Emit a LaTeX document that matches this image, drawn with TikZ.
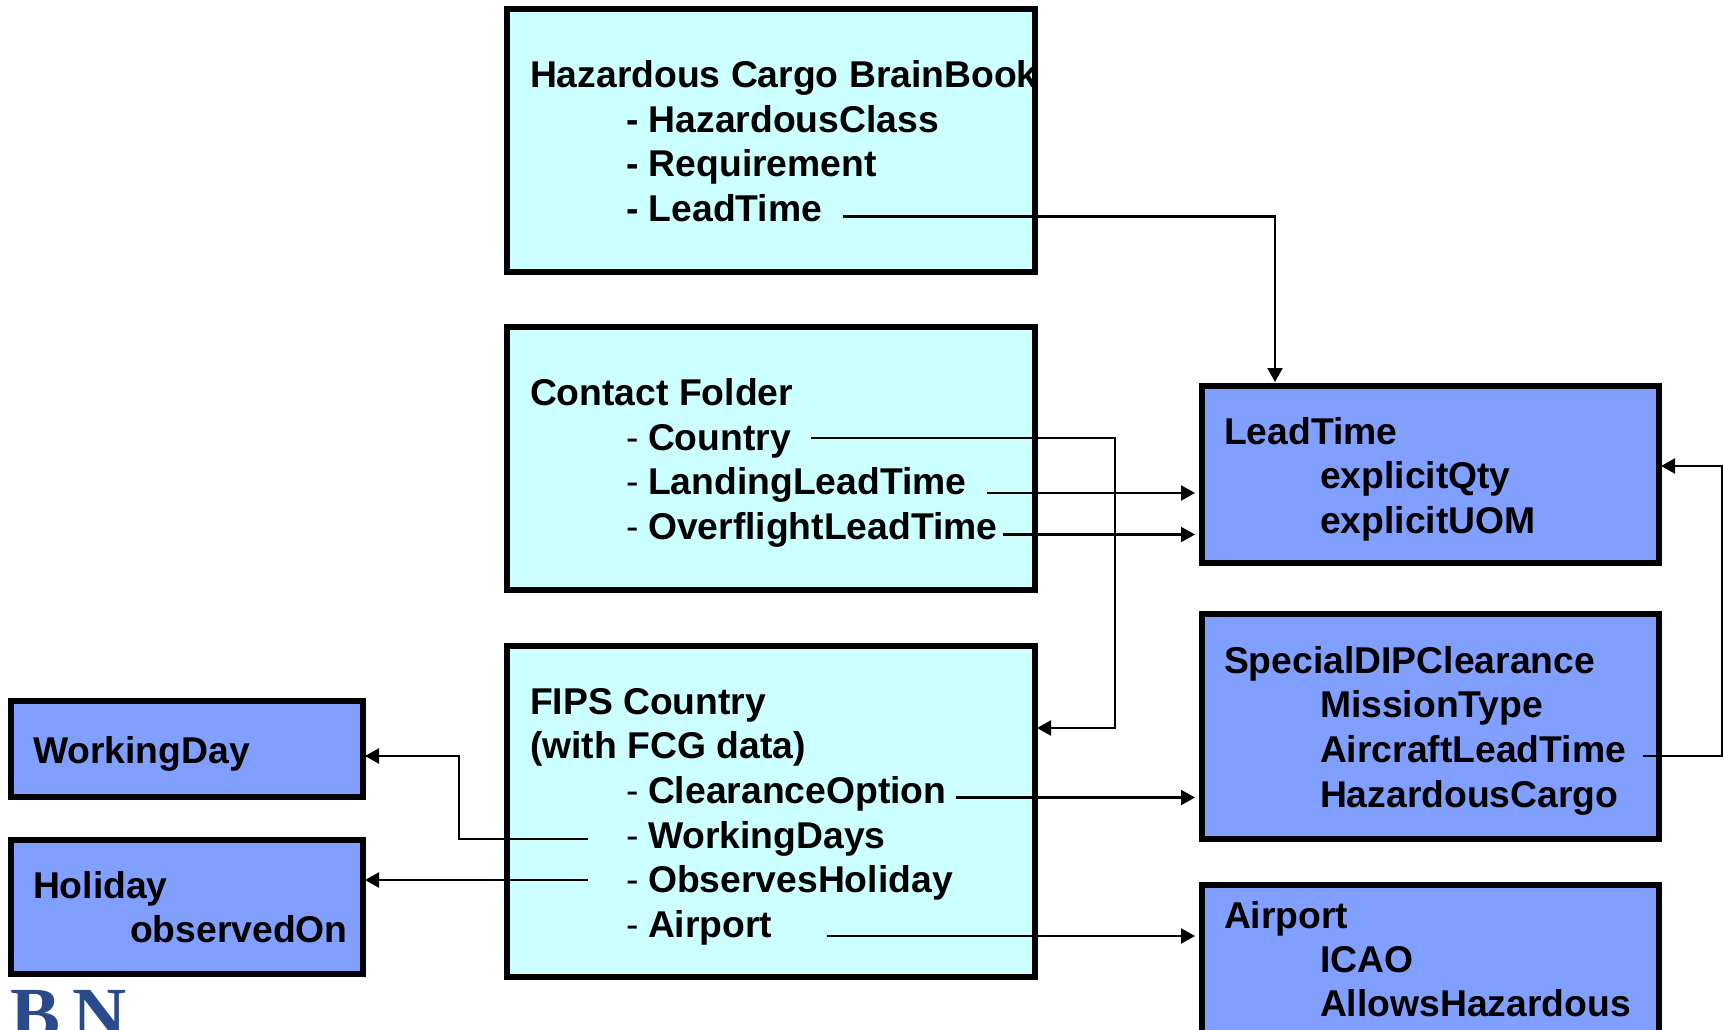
\documentclass[tikz,border=0pt]{standalone}
\usepackage{fontspec}
\setmainfont{Liberation Sans}
\newfontfamily\logofont{Liberation Serif}
\usetikzlibrary{arrows.meta}
\definecolor{cyanbox}{HTML}{CCFFFF}
\definecolor{bluebox}{HTML}{809FFF}
\definecolor{logoblue}{HTML}{2A4A8C}
\tikzset{
  x=1pt,y=-1pt,
  boxa/.style={draw=black,line width=6pt,fill=cyanbox},
  boxb/.style={draw=black,line width=6pt,fill=bluebox},
  txt/.style={anchor=base west,inner sep=0pt,outer sep=0pt,font=\fontsize{37.3}{40}\selectfont\bfseries},
  dsh/.style={anchor=base west,inner sep=0pt,outer sep=0pt,font=\fontsize{37.3}{40}\selectfont},
  link/.style={draw=black,line width=2.1pt},
  arr/.style={link,-{Triangle[length=14pt,width=15pt]}},
}
\begin{document}
\begin{tikzpicture}
\useasboundingbox (0,0) rectangle (1723,1030);
\clip (0,0) rectangle (1723,1030);
% boxes
\draw[boxa] (507,9) rectangle (1035,272);
\draw[boxa] (507,327) rectangle (1035,590);
\draw[boxa] (507,646) rectangle (1035,977);
\draw[boxb] (1202,386) rectangle (1659,563);
\draw[boxb] (1202,614) rectangle (1659,839);
\draw[boxb] (1202,885) rectangle (1659,1050);
\draw[boxb] (11,701) rectangle (363,797);
\draw[boxb] (11,840) rectangle (363,974);
% text
\node[txt] (h0) at (530,87.5) {Hazardous Cargo BrainBook};
\node[txt] (h1) at (626,132) {- HazardousClass};
\node[txt] (h2) at (626,176) {- Requirement};
\node[txt] (h3) at (626,221) {- LeadTime};
\node[txt] (c0) at (530,405) {Contact Folder};
\node[dsh] (c1d) at (626,450) {-};
\node[txt] (c1) at (648,450) {Country};
\node[dsh] (c2d) at (626,494) {-};
\node[txt] (c2) at (648,494) {LandingLeadTime};
\node[dsh] (c3d) at (626,539) {-};
\node[txt] (c3) at (648,539) {OverflightLeadTime};
\node[txt] (f0) at (530,714) {FIPS Country};
\node[txt] (f1) at (530,758) {(with FCG data)};
\node[dsh] (f2d) at (626,803) {-};
\node[txt] (f2) at (648,803) {ClearanceOption};
\node[dsh] (f3d) at (626,848) {-};
\node[txt] (f3) at (648,848) {WorkingDays};
\node[dsh] (f4d) at (626,892) {-};
\node[txt] (f4) at (648,892) {ObservesHoliday};
\node[dsh] (f5d) at (626,937) {-};
\node[txt] (f5) at (648,937) {Airport};
\node[txt] (l0) at (1224,444) {LeadTime};
\node[txt] (l1) at (1320,488) {explicitQty};
\node[txt] (l2) at (1320,533) {explicitUOM};
\node[txt] (s0) at (1224,673) {SpecialDIPClearance};
\node[txt] (s1) at (1320,717.5) {MissionType};
\node[txt] (s2) at (1320,762) {AircraftLeadTime};
\node[txt] (s3) at (1320,807) {HazardousCargo};
\node[txt] (a0) at (1224,928) {Airport};
\node[txt] (a1) at (1320,972.5) {ICAO};
\node[txt] (a2) at (1320,1016.5) {AllowsHazardous};
\node[txt] (w0) at (33,763) {WorkingDay};
\node[txt] (o0) at (33,898) {Holiday};
\node[txt] (o1) at (130,942) {observedOn};
\node[anchor=base west,inner sep=0pt,text=logoblue,font=\logofont\bfseries\fontsize{75}{75}\selectfont] (logo) at (10,1039) {B\,N};
% connector ends
\coordinate (e1a) at (843,216.5); \coordinate (e1b) at (1275,216.5); \coordinate (e1c) at (1275,382);
\coordinate (e2a) at (811,438); \coordinate (e2b) at (1115,438); \coordinate (e2c) at (1115,728); \coordinate (e2d) at (1037,728);
\coordinate (e3a) at (987,493); \coordinate (e3b) at (1195,493);
\coordinate (e4a) at (1003,534.5); \coordinate (e4b) at (1195,534.5);
\coordinate (e5a) at (956,797.5); \coordinate (e5b) at (1195,797.5);
\coordinate (e6a) at (588,839); \coordinate (e6b) at (459,839); \coordinate (e6c) at (459,756); \coordinate (e6d) at (365,756);
\coordinate (e7a) at (588,880); \coordinate (e7b) at (365,880);
\coordinate (e8a) at (827,936); \coordinate (e8b) at (1195,936);
\coordinate (e9a) at (1643,756); \coordinate (e9b) at (1722,756); \coordinate (e9c) at (1722,466); \coordinate (e9d) at (1661,466);
% connectors
\draw[arr] (e1a) -- (e1b) -- (e1c);
\draw[arr] (e2a) -- (e2b) -- (e2c) -- (e2d);
\draw[arr] (e3a) -- (e3b);
\draw[arr] (e4a) -- (e4b);
\draw[arr] (e5a) -- (e5b);
\draw[arr] (e6a) -- (e6b) -- (e6c) -- (e6d);
\draw[arr] (e7a) -- (e7b);
\draw[arr] (e8a) -- (e8b);
\draw[arr] (e9a) -- (e9b) -- (e9c) -- (e9d);
\end{tikzpicture}
\end{document}
